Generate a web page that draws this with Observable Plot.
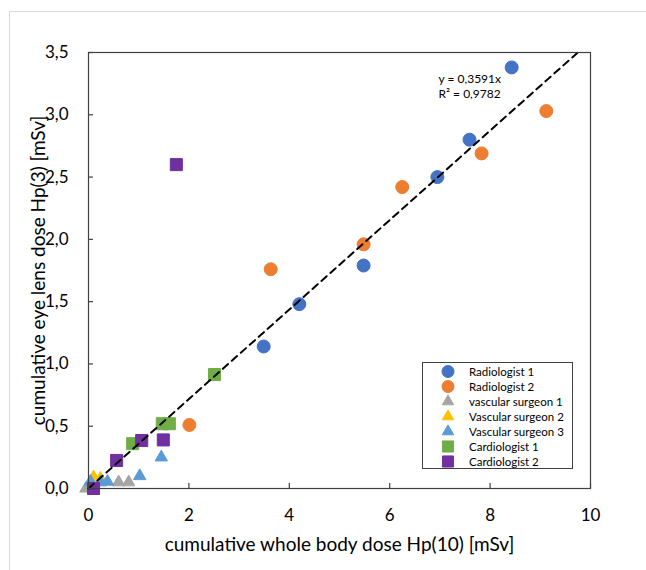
<!DOCTYPE html>
<html>
<head>
<meta charset="utf-8">
<script src="https://cdn.jsdelivr.net/npm/d3@7"></script>
<script src="https://cdn.jsdelivr.net/npm/@observablehq/plot@0.6"></script>
<style>
  body { margin: 0; background: #fff; }
  #wrap { position: relative; width: 646px; height: 570px; overflow: hidden; background: #fff; font-family: Lato, "Liberation Sans", sans-serif; }
  #outer { position: absolute; left: 9px; top: 11px; width: 700px; height: 700px; border: 1px solid #d9d9d9; pointer-events: none; }
  #chart { position: absolute; left: 0; top: 0; }
  #legend { position: absolute; left: 422px; top: 362px; width: 149px; height: 105px; border: 1px solid #404040; background: #fff; font-size: 11.5px; color: #000; }
  .row { position: absolute; left: 0; height: 15px; line-height: 15px; white-space: nowrap; }
  .row svg { position: absolute; left: 18px; top: 0; }
  .row span { position: absolute; left: 46px; top: 0; }
</style>
</head>
<body>
<div id="wrap">
  <div id="chart"></div>
  <div id="outer"></div>
  <div id="legend"></div>
</div>
<script>
const names = ["Radiologist 1", "Radiologist 2", "vascular surgeon 1", "Vascular surgeon 2", "Vascular surgeon 3", "Cardiologist 1", "Cardiologist 2"];
const colors = ["#4472C4", "#ED7D31", "#A5A5A5", "#FFC000", "#5B9BD5", "#70AD47", "#7030A0"];
const symbols = ["circle", "circle", "triangle", "triangle", "triangle", "square", "square"];

const xRad1 = [3.49, 4.20, 5.48, 6.95, 7.59, 8.43];
const yRad1 = [1.14, 1.48, 1.79, 2.50, 2.80, 3.38];
const xRad2 = [2.01, 3.63, 5.48, 6.25, 7.83, 9.12];
const yRad2 = [0.51, 1.76, 1.96, 2.42, 2.69, 3.03];
const xVas1 = [-0.05, 0.60, 0.80];
const yVas1 = [0.0, 0.05, 0.05];
const xVas2 = [0.10, 0.24];
const yVas2 = [0.09, 0.08];
const xVas3 = [0.04, 0.24, 0.38, 1.02, 1.45];
const yVas3 = [0.055, 0.05, 0.055, 0.10, 0.25];
const xCar1 = [0.88, 1.47, 1.61, 2.51];
const yCar1 = [0.36, 0.52, 0.52, 0.915];
const xCar2 = [0.10, 0.56, 1.06, 1.49, 1.75];
const yCar2 = [0.0, 0.225, 0.385, 0.39, 2.60];

const seriesX = [xRad1, xRad2, xVas1, xVas2, xVas3, xCar1, xCar2];
const seriesY = [yRad1, yRad2, yVas1, yVas2, yVas3, yCar1, yCar2];

const slope = 0.3591;
const r2 = 0.9782;
const xTicks = [0, 2, 4, 6, 8, 10];
const yTicks = [0, 0.5, 1, 1.5, 2, 2.5, 3, 3.5];
const xTitle = "cumulative whole body dose Hp(10) [mSv]";
const yTitle = "cumulative eye lens dose Hp(3) [mSv]";
const eqText = "y = " + String(slope).replace(".", ",") + "x\nR² = " + String(r2).replace(".", ",");

const symSize = {circle: 6.5, triangle: 4.6, square: 6.8};

const dotMarks = names.map((name, i) => {
  const rows = seriesX[i].map((x, j) => ({x, y: seriesY[i][j], name}));
  return Plot.dot(rows, {
    x: "x", y: "y", symbol: () => symbols[i], r: symSize[symbols[i]],
    fill: colors[i], stroke: colors[i], strokeWidth: 1, strokeLinejoin: "round"
  });
});

const xMax = d3.max(yTicks) / slope;
const trend = [0, xMax].map(x => ({x, y: slope * x}));

const axisColor = "#404040";

const plot = Plot.plot({
  width: 646,
  height: 570,
  marginLeft: 88,
  marginRight: 56,
  marginTop: 52,
  marginBottom: 82,
  style: {fontFamily: "Lato, 'Liberation Sans', sans-serif", fontSize: "17px", background: "transparent", color: "#000"},
  x: {domain: [0, 10]},
  y: {domain: [0, 3.5]},
  symbol: {type: "identity"},
  marks: [
    ...dotMarks,
    Plot.line(trend, {x: "x", y: "y", stroke: "#000", strokeWidth: 2, strokeDasharray: "7,5"}),
    Plot.frame({stroke: axisColor, strokeWidth: 1.2}),
    Plot.axisX({ticks: xTicks, tickSize: -5, tickPadding: 25, stroke: axisColor, strokeWidth: 1.2, tickFormat: d => String(d), label: null, fill: "#000"}),
    Plot.axisY({ticks: yTicks, tickSize: -5, tickPadding: 25, stroke: axisColor, strokeWidth: 1.2, tickFormat: d => d.toFixed(1).replace(".", ","), label: null, fill: "#000"}),
    Plot.text([xTitle], {text: d => d, frameAnchor: "bottom", textAnchor: "middle", lineAnchor: "middle", dy: 56, fontSize: 19, fill: "#000"}),
    Plot.text([yTitle], {text: d => d, frameAnchor: "left", textAnchor: "middle", lineAnchor: "middle", dx: -50, rotate: -90, fontSize: 19, fill: "#000"}),
    Plot.text([eqText], {text: d => d, frameAnchor: "top-right", dx: -152, dy: 20, textAnchor: "start", lineAnchor: "top", fontSize: 12, lineHeight: 1.25, fill: "#000"})
  ]
});
document.getElementById("chart").appendChild(plot);

// legend
const legend = d3.select("#legend");
names.forEach((name, i) => {
  const row = legend.append("div").attr("class", "row").style("top", (i * 15 + 0.5) + "px");
  const svg = row.append("svg").attr("width", 14).attr("height", 15);
  const s = symSize[symbols[i]];
  const sym = {circle: d3.symbolCircle, triangle: d3.symbolTriangle, square: d3.symbolSquare}[symbols[i]];
  svg.append("path")
    .attr("transform", "translate(7,7.5)")
    .attr("d", d3.symbol(sym, Math.PI * s * s * 0.85)())
    .attr("fill", colors[i]).attr("stroke", colors[i]).attr("stroke-linejoin", "round");
  row.append("span").text(name);
});
</script>
</body>
</html>
